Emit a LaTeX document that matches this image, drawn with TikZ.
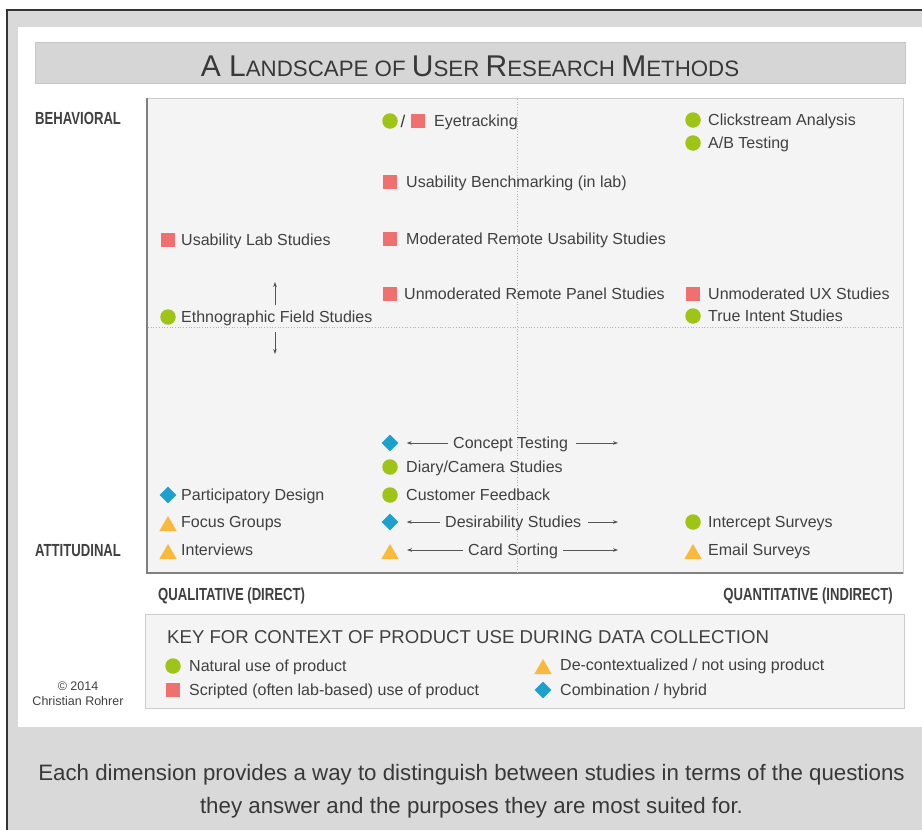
\documentclass[tikz,border=0pt]{standalone}
\usepackage{fontspec}
\setmainfont{Liberation Sans}
\newfontfamily\condfont{Liberation Sans}[FakeStretch=0.75]
\usetikzlibrary{shapes.geometric,arrows.meta}
\definecolor{txt}{HTML}{404040}
\definecolor{mgreen}{RGB}{157,196,23}
\definecolor{mred}{RGB}{240,112,112}
\definecolor{morange}{RGB}{248,185,60}
\definecolor{mblue}{RGB}{30,160,205}
\definecolor{framegray}{HTML}{D9D9D9}
\definecolor{plotfill}{HTML}{F4F4F4}
\definecolor{arrc}{HTML}{555555}
\tikzset{
  itm/.style={anchor=west, inner sep=0pt, text height=11.5pt, text depth=0pt,
    font=\fontsize{16}{16}\selectfont, text=txt},
  keyt/.style={anchor=west, inner sep=0pt, text height=11.5pt, text depth=0pt,
    font=\fontsize{16}{16}\selectfont, text=txt},
  axl/.style={inner sep=0pt, text height=12.5pt, text depth=0pt,
    font=\condfont\bfseries\fontsize{17.5}{17.5}\selectfont, text=txt},
  gdot/.style={circle, fill=mgreen, minimum size=15.5pt, inner sep=0pt},
  rsq/.style={rectangle, fill=mred, minimum size=13.5pt, inner sep=0pt},
  bdia/.style={diamond, fill=mblue, minimum width=17pt, minimum height=17pt, inner sep=0pt},
  otri/.style={regular polygon, regular polygon sides=3, fill=morange, minimum size=20pt, inner sep=0pt},
  arr/.style={-{Stealth[length=5pt,width=3.6pt]}, draw=arrc, line width=0.7pt},
  capt/.style={inner sep=0pt, text height=16pt, text depth=0pt,
    font=\fontsize{22.3}{22.3}\selectfont, text=black!78},
}
\begin{document}
\begin{tikzpicture}[x=1pt,y=-1pt]
\useasboundingbox (0,0) rectangle (922,830);
\fill[white] (0,0) rectangle (922,830);
% outer frame
\fill[framegray] (7,10) rectangle (922,830);
\draw[black!80, line width=1.1pt] (7,830) -- (7,10) -- (922,10);
% white panel
\fill[white] (18,27) rectangle (922,727);
% title bar
\draw[draw=black!22, fill=black!16, line width=0.8pt] (35,42) rectangle (905,83);
\node[inner sep=0pt, text=black!78, anchor=base] (title) at (470,76)
 {\fontsize{30}{30}\selectfont A L\fontsize{22.3}{22.3}\selectfont ANDSCAPE OF \fontsize{30}{30}\selectfont U\fontsize{22.3}{22.3}\selectfont SER \fontsize{30}{30}\selectfont R\fontsize{22.3}{22.3}\selectfont ESEARCH \fontsize{30}{30}\selectfont M\fontsize{22.3}{22.3}\selectfont ETHODS};
% plot frame
\draw[draw=black!20, fill=plotfill, line width=0.8pt] (147,98) rectangle (903,573);
\draw[black!50, line width=1.8pt] (147,98) -- (147,573) -- (903,573);
\draw[black!30, dotted, line width=0.7pt] (517,99) -- (517,572);
\draw[black!30, dotted, line width=0.7pt] (148,327) -- (902,327);
% axis labels
\node[axl, anchor=west] (beh) at (35,118) {BEHAVIORAL};
\node[axl, anchor=west] (att) at (35,550) {ATTITUDINAL};
\node[axl, anchor=west] (qual) at (158,594) {QUALITATIVE (DIRECT)};
\node[axl, anchor=east] (quan) at (893,594) {QUANTITATIVE (INDIRECT)};
% column 1
\node[rsq] (ulsm) at (168,240) {};
\node[itm] (uls) at (181,240) {Usability Lab Studies};
\node[gdot] (efsm) at (168,317) {};
\node[itm] (efs) at (181,317) {Ethnographic Field Studies};
\coordinate (upA) at (275,305); \coordinate (upB) at (275,282);
\coordinate (dnA) at (275,332); \coordinate (dnB) at (275,354);
\draw[arr] (upA) -- (upB);
\draw[arr] (dnA) -- (dnB);
\node[bdia] (pdm) at (168,495) {};
\node[itm] (pd) at (181,495) {Participatory Design};
\node[otri] (fgm) at (168,526) {};
\node[itm] (fg) at (181,522) {Focus Groups};
\node[otri] (intm) at (168,554) {};
\node[itm] (int) at (181,550) {Interviews};
% column 2
\node[gdot] (etm1) at (390,121) {};
\node[inner sep=0pt, text=black!80, font=\fontsize{17}{17}\selectfont] (etsl) at (403,121) {/};
\node[rsq] (etm2) at (418,121) {};
\node[itm] (et) at (434,121) {Eyetracking};
\node[rsq] (ubm) at (390,182) {};
\node[itm] (ub) at (406,182) {Usability Benchmarking (in lab)};
\node[rsq] (mrusm) at (390,239) {};
\node[itm] (mrus) at (406,239) {Moderated Remote Usability Studies};
\node[rsq] (urpsm) at (390,294) {};
\node[itm] (urps) at (404,294) {Unmoderated Remote Panel Studies};
\node[bdia] (ctm) at (390,443) {};
\node[itm] (ct) at (453,443) {Concept Testing};
\coordinate (ctr) at (618,443);
\draw[arr, shorten <=5pt, shorten >=8pt] (ct.west) -- (ctm.east);
\draw[arr, shorten <=8pt] (ct.east) -- (ctr);
\node[gdot] (dcsm) at (390,467) {};
\node[itm] (dcs) at (406,467) {Diary/Camera Studies};
\node[gdot] (cfm) at (390,495) {};
\node[itm] (cf) at (406,495) {Customer Feedback};
\node[bdia] (dsm) at (390,522) {};
\node[itm] (ds) at (445,522) {Desirability Studies};
\coordinate (dsr) at (618,522);
\draw[arr, shorten <=5pt, shorten >=8pt] (ds.west) -- (dsm.east);
\draw[arr, shorten <=7pt] (ds.east) -- (dsr);
\node[otri] (csm) at (390,554) {};
\node[itm] (cs) at (468,550) {Card Sorting};
\coordinate (csl) at (407,550);
\coordinate (csr) at (618,550);
\draw[arr, shorten <=5pt] (cs.west) -- (csl);
\draw[arr, shorten <=5pt] (cs.east) -- (csr);
% column 3
\node[gdot] (clm) at (693,120) {};
\node[itm] (cl) at (708,120) {Clickstream Analysis};
\node[gdot] (abm) at (693,143) {};
\node[itm] (ab) at (708,143) {A/B Testing};
\node[rsq] (uuxm) at (693,294) {};
\node[itm] (uux) at (708,294) {Unmoderated UX Studies};
\node[gdot] (tism) at (693,316) {};
\node[itm] (tis) at (708,316) {True Intent Studies};
\node[gdot] (ism) at (693,522) {};
\node[itm] (is) at (708,522) {Intercept Surveys};
\node[otri] (esm) at (693,554) {};
\node[itm] (es) at (708,550) {Email Surveys};
% key
\draw[draw=black!20, fill=plotfill, line width=0.8pt] (145,614) rectangle (904,708);
\node[anchor=west, inner sep=0pt, text height=13pt, text depth=0pt, text=txt,
  font=\fontsize{18.6}{18.6}\selectfont] (keytitle) at (167,637)
  {KEY FOR CONTEXT OF PRODUCT USE DURING DATA COLLECTION};
\node[gdot] (k1m) at (173,666) {};
\node[keyt] (k1) at (189,666) {Natural use of product};
\node[rsq] (k2m) at (173,690) {};
\node[keyt] (k2) at (189,690) {Scripted (often lab-based) use of product};
\node[otri] (k3m) at (543,669) {};
\node[keyt] (k3) at (560,665) {De-contextualized / not using product};
\node[bdia] (k4m) at (543,690) {};
\node[keyt] (k4) at (560,690) {Combination / hybrid};
% copyright
\node[inner sep=0pt, text=txt, font=\fontsize{12.5}{12.5}\selectfont, text height=9pt, text depth=0pt] (cp1) at (78,686) {\textcopyright\ 2014};
\node[inner sep=0pt, text=txt, font=\fontsize{12.5}{12.5}\selectfont, text height=9pt, text depth=0pt] (cp2) at (78,701) {Christian Rohrer};
% caption
\node[capt] (cap1) at (471.5,772) {Each dimension provides a way to distinguish between studies in terms of the questions};
\node[capt] (cap2) at (471.5,805) {they answer and the purposes they are most suited for.};
\end{tikzpicture}
\end{document}
